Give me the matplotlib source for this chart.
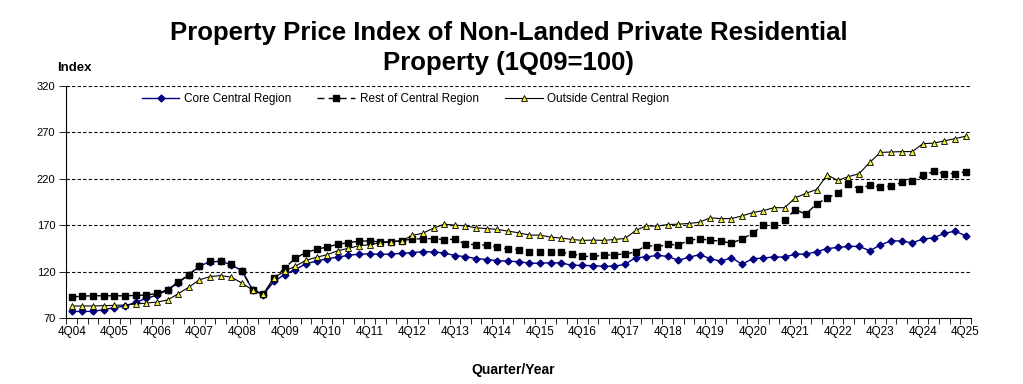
import numpy as np
import matplotlib.pyplot as plt

# ================================
# data (index, 1Q09 = 100)
# ================================
quarters = [f"{q}Q{y:02d}" for y in range(4, 26) for q in range(1, 5)][3:]

ccr = [77.0, 77.1, 77.1, 78.9, 81.1, 82.9, 86.8, 91.1, 94.6, 99.9,
       108.1, 116.3, 125.9, 130.6, 130.9, 127.4, 120.6, 100.0, 95.2, 109.3,
       116.8, 122.1, 128.4, 131.2, 133.8, 135.6, 137.5, 138.8, 139.1, 138.6,
       138.9, 139.6, 140.5, 141.4, 141.2, 140.0, 137.3, 136.1, 134.0, 133.0,
       131.8, 131.2, 130.7, 129.0, 129.0, 129.5, 129.3, 126.8, 126.6, 126.4,
       125.7, 125.7, 127.9, 135.0, 135.7, 137.5, 136.4, 132.1, 135.4, 138.2,
       134.0, 131.1, 135.0, 127.9, 133.9, 134.5, 135.9, 135.5, 138.9, 138.8,
       141.4, 144.8, 146.0, 147.1, 147.1, 142.5, 148.6, 153.2, 152.9, 151.1,
       155.0, 156.4, 161.1, 163.6, 158.6]

rcr = [92.5, 93.6, 93.9, 93.9, 93.9, 93.9, 94.3, 94.6, 96.4, 100.4,
       108.6, 116.8, 126.4, 131.1, 131.4, 127.9, 121.1, 100.0, 95.4, 112.9,
       123.6, 134.3, 140.5, 144.0, 146.5, 149.3, 151.3, 152.7, 153.1, 151.8,
       152.2, 153.3, 155.0, 155.4, 155.5, 154.5, 154.8, 149.6, 149.0, 148.4,
       146.3, 144.3, 143.6, 141.1, 140.7, 140.7, 140.7, 139.3, 136.4, 136.4,
       137.5, 138.2, 138.9, 141.1, 148.6, 146.4, 149.3, 148.6, 153.6, 155.4,
       153.7, 152.9, 150.4, 155.4, 161.1, 170.7, 170.7, 175.4, 186.8, 181.8,
       193.2, 198.9, 205.2, 213.9, 209.3, 212.9, 211.4, 211.8, 216.1, 217.5,
       223.6, 227.9, 225.7, 225.7, 227.5]

ocr = [82.9, 82.9, 82.9, 83.2, 83.6, 83.9, 85.0, 86.1, 87.1, 89.3,
       96.1, 103.2, 111.1, 114.6, 115.7, 113.9, 107.5, 100.0, 96.1, 113.2,
       120.4, 125.7, 132.1, 135.4, 138.2, 142.5, 145.0, 147.9, 148.9, 151.1,
       151.8, 153.2, 158.9, 161.4, 166.8, 171.1, 170.0, 169.3, 167.1, 166.4,
       165.4, 163.6, 161.8, 159.3, 159.3, 157.1, 156.1, 154.6, 153.6, 153.9,
       153.6, 154.6, 155.7, 164.3, 169.3, 168.9, 170.7, 171.1, 171.8, 173.2,
       177.9, 177.1, 177.1, 180.0, 183.6, 185.7, 188.9, 188.8, 199.5, 204.3,
       208.4, 224.2, 218.2, 222.3, 225.5, 237.7, 248.4, 248.9, 249.3, 249.3,
       257.9, 258.4, 260.9, 263.2, 265.9]

series_names = ["Core Central Region", "Rest of Central Region", "Outside Central Region"]
y_ticks = [70, 120, 170, 220, 270, 320]

plt.rcParams["font.family"] = ["Liberation Sans", "DejaVu Sans"]

# ================================
# chart
# ================================
fig = plt.figure(figsize=(10.23, 3.84), dpi=100)
ax = fig.add_axes([0.065, 0.172, 0.884, 0.604])

x = np.arange(len(quarters))

ax.plot(x, ccr, color="#000080", lw=1.0, marker="D", ms=3.5,
        mfc="#000080", mec="#000080", label=series_names[0], zorder=3)
ax.plot(x, rcr, color="black", lw=1.0, ls=(0, (5, 3)), marker="s", ms=5,
        mfc="black", mec="black", label=series_names[1], zorder=4)
ax.plot(x, ocr, color="black", lw=0.8, marker="^", ms=5,
        mfc="#F2EE3C", mec="black", mew=0.6, label=series_names[2], zorder=5)

ax.set_xlim(-0.5, len(quarters) - 0.5)
ax.set_ylim(70, 320)
ax.set_yticks(y_ticks)
ax.set_yticklabels([str(v) for v in y_ticks], fontsize=8)

# labels every 4 quarters, small ticks between every category
ax.set_xticks(x[::4])
ax.set_xticklabels(quarters[::4], fontsize=8.5)
ax.set_xticks(np.arange(-0.5, len(quarters)), minor=True)
ax.tick_params(axis="x", which="major", length=0, pad=6)
ax.tick_params(axis="x", which="minor", length=4, width=0.6, direction="out")
ax.tick_params(axis="y", length=5, width=0.6, direction="out", pad=3)

for v in y_ticks[1:]:
    ax.axhline(v, color="black", lw=0.8, ls=(0, (3, 2)), zorder=1)

for side in ["top", "right"]:
    ax.spines[side].set_visible(False)
ax.spines["left"].set_linewidth(0.8)
ax.spines["bottom"].set_linewidth(0.8)

ax.legend(loc="center", bbox_to_anchor=(0.375, 0.944), ncol=3, frameon=False,
          fontsize=8.5, handlelength=3.2, columnspacing=2.2, handletextpad=0.4)

fig.text(0.497, 0.913, "Property Price Index of Non-Landed Private Residential",
         ha="center", va="center", fontsize=18.5, fontweight="bold")
fig.text(0.497, 0.835, "Property (1Q09=100)",
         ha="center", va="center", fontsize=18.5, fontweight="bold")
fig.text(0.073, 0.823, "Index", ha="center", va="center", fontsize=9.5, fontweight="bold")
fig.text(0.502, 0.036, "Quarter/Year", ha="center", va="center",
         fontsize=10, fontweight="bold")

plt.savefig("out.png", dpi=100)
